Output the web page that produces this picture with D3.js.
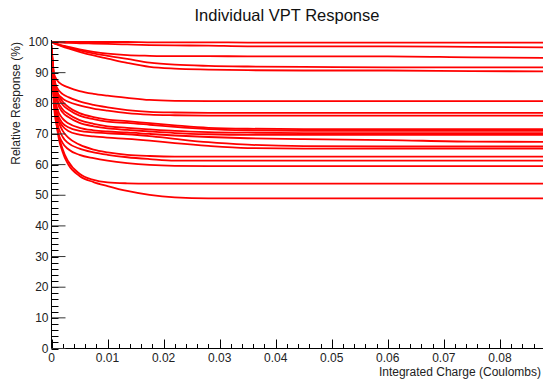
<!DOCTYPE html>
<html>
<head>
<meta charset="utf-8">
<script src="https://cdn.jsdelivr.net/npm/d3@7"></script>
<style>
  html, body { margin: 0; padding: 0; background: #fff; }
  svg { display: block; font-family: "Liberation Sans", Arial, sans-serif; }
</style>
</head>
<body>
<svg id="chart" width="543" height="380"></svg>
<script>
// ---- data ----
const title = "Individual VPT Response";
const xLabel = "Integrated Charge (Coulombs)";
const yLabel = "Relative Response (%)";

// integrated charge sample points shared by every VPT curve
const charge = [0, 0.0004, 0.001, 0.002, 0.003, 0.005, 0.0075, 0.01, 0.0135, 0.0175, 0.022, 0.028, 0.035, 0.045, 0.06, 0.075, 0.09];

// relative response (%) of each VPT at those charges
const vptA = [100, 100, 100, 100, 100, 100, 100, 100, 100, 99.9, 99.9, 99.9, 99.8, 99.8, 99.8, 99.8, 99.8];
const vptB = [100, 99.95, 99.9, 99.8, 99.7, 99.6, 99.5, 99.4, 99.2, 99.0, 98.9, 98.8, 98.6, 98.6, 98.6, 98.4, 98.2];
const vptC = [100, 99.7, 99.3, 98.8, 98.4, 97.6, 96.8, 96.2, 95.7, 95.5, 95.4, 95.4, 95.3, 95.3, 95.3, 95.0, 94.8];
const vptD = [100, 99.7, 99.3, 98.7, 98.2, 97.3, 96.3, 95.5, 94.5, 93.3, 92.6, 92.2, 92.0, 91.9, 91.7, 91.7, 91.7];
const vptE = [100, 99.6, 99.2, 98.5, 97.9, 96.8, 95.6, 94.6, 93.2, 91.9, 91.3, 91.0, 90.8, 90.7, 90.7, 90.5, 90.4];
const vptF = [98, 90, 87.5, 86.0, 85.2, 84.0, 83.1, 82.5, 81.8, 81.1, 80.8, 80.7, 80.7, 80.7, 80.7, 80.7, 80.7];
const vptG = [97, 88, 85, 83, 82, 80.6, 79.5, 78.7, 77.8, 77.2, 77.0, 76.9, 76.9, 76.9, 76.9, 76.9, 76.9];
const vptH = [96, 86, 83.5, 81.5, 80.5, 79.3, 78.3, 77.6, 76.8, 76.3, 76.1, 76.0, 76.0, 76.0, 76.0, 76.0, 76.0];
const vptI = [99, 90, 84, 80.5, 78.8, 76.8, 75.5, 74.7, 74.2, 73.5, 72.8, 72.0, 71.7, 71.6, 71.6, 71.6, 71.6];
const vptJ = [99, 89, 83, 79.5, 78, 76, 74.8, 74, 73.6, 73.0, 72.3, 71.6, 71.2, 71.0, 71.0, 71.0, 71.0];
const vptK = [98, 88, 81.5, 78, 76.5, 74.5, 73.3, 72.5, 72.0, 71.5, 71.0, 70.6, 70.4, 70.3, 70.3, 70.3, 70.3];
const vptL = [98, 87, 80.5, 77, 75.5, 73.6, 72.5, 71.8, 71.3, 70.8, 70.3, 69.9, 69.7, 69.7, 69.7, 69.7, 69.7];
const vptM = [97, 85, 78.5, 75, 73.5, 72.0, 71.2, 70.8, 70.5, 70.0, 69.5, 69.0, 68.6, 68.3, 68.0, 67.5, 67.4];
const vptN = [97, 84, 77, 73.5, 72.2, 71.0, 70.5, 70.2, 69.9, 69.3, 68.4, 67.3, 66.5, 66.0, 65.9, 65.9, 65.9];
const vptO = [96, 83, 76, 72.5, 71, 69.8, 69.2, 68.8, 68.4, 67.8, 67.0, 66.1, 65.4, 65.2, 65.2, 65.2, 65.2];
const vptP = [98, 84, 76, 71, 68.8, 66.5, 64.9, 64.0, 63.2, 62.8, 62.6, 62.6, 62.6, 62.6, 62.6, 62.6, 62.6];
const vptQ = [98, 82, 74, 69, 67.0, 65.2, 64.0, 63.2, 62.4, 61.8, 61.3, 61.3, 61.3, 61.3, 61.3, 61.3, 61.3];
const vptR = [97, 80, 72, 67, 65.0, 63.2, 62.1, 61.3, 60.5, 59.9, 59.6, 59.5, 59.5, 59.5, 59.5, 59.5, 59.5];
const vptS = [97, 85, 73, 65, 61, 57, 55, 54.2, 53.9, 53.8, 53.8, 53.8, 53.8, 53.8, 53.8, 53.8, 53.8];
const vptT = [97, 84, 72, 64, 60, 56.3, 54.3, 53.0, 51.4, 50.1, 49.3, 49.0, 49.0, 49.0, 49.0, 49.0, 49.0];

const curves = [vptA, vptB, vptC, vptD, vptE, vptF, vptG, vptH, vptI, vptJ,
                vptK, vptL, vptM, vptN, vptO, vptP, vptQ, vptR, vptS, vptT];

const xMajor = [0, 0.01, 0.02, 0.03, 0.04, 0.05, 0.06, 0.07, 0.08];
const xTickLabels = ["0", "0.01", "0.02", "0.03", "0.04", "0.05", "0.06", "0.07", "0.08"];
const yMajor = [0, 10, 20, 30, 40, 50, 60, 70, 80, 90, 100];

// ---- layout ----
const svg = d3.select("#chart");
const padL = 51.5, padB = 348.5, padT = 42, padR = 543;
const x = d3.scaleLinear().domain([0, 0.08]).range([padL, padL + 0.08 * 5605]);
const y = d3.scaleLinear().domain([0, 100]).range([padB, padT]);

// clip for curves
svg.append("defs").append("clipPath").attr("id", "plot")
  .append("rect").attr("x", padL).attr("y", 30).attr("width", padR - padL).attr("height", padB - 30 + 1);

const line = d3.line()
  .x((d, i) => x(charge[i]))
  .y(d => y(d))
  .curve(d3.curveMonotoneX);

svg.append("g").attr("clip-path", "url(#plot)")
  .selectAll("path").data(curves).join("path")
  .attr("d", d => line(d))
  .attr("fill", "none")
  .attr("stroke", "#ff0000")
  .attr("stroke-width", 1.8)
  .attr("stroke-linejoin", "round");

// ---- axes (ROOT style: ticks inside) ----
const axisColor = "#000";
const xMax = x.invert(padR);
const xMinor = d3.range(0, xMax + 1e-9, 0.002);
const yMinor = d3.range(0, 100.0001, 2);

const gx = svg.append("g");
gx.append("line").attr("x1", padL).attr("x2", padR).attr("y1", padB).attr("y2", padB)
  .attr("stroke", axisColor);
gx.selectAll(".minor").data(xMinor).join("line")
  .attr("x1", d => Math.round(x(d)) + 0.5).attr("x2", d => Math.round(x(d)) + 0.5)
  .attr("y1", padB).attr("y2", padB - 4.5).attr("stroke", axisColor);
gx.selectAll(".major").data(xMajor).join("line")
  .attr("x1", d => Math.round(x(d)) + 0.5).attr("x2", d => Math.round(x(d)) + 0.5)
  .attr("y1", padB).attr("y2", padB - 9).attr("stroke", axisColor);
gx.selectAll("text").data(xMajor).join("text")
  .attr("x", d => x(d)).attr("y", 362)
  .attr("text-anchor", "middle")
  .attr("font-size", 12).attr("fill", "#222")
  .text((d, i) => xTickLabels[i]);

const gy = svg.append("g");
gy.append("line").attr("x1", padL).attr("x2", padL).attr("y1", padB).attr("y2", 40)
  .attr("stroke", axisColor);
gy.selectAll(".minor").data(yMinor).join("line")
  .attr("x1", padL).attr("x2", padL + 7)
  .attr("y1", d => Math.round(y(d)) + 0.5).attr("y2", d => Math.round(y(d)) + 0.5)
  .attr("stroke", axisColor);
gy.selectAll(".major").data(yMajor).join("line")
  .attr("x1", padL).attr("x2", padL + 14)
  .attr("y1", d => y(d)).attr("y2", d => y(d))
  .attr("stroke", "#333");
gy.selectAll("text").data(yMajor).join("text")
  .attr("x", 48.5).attr("y", d => y(d) + 4)
  .attr("text-anchor", "end")
  .attr("font-size", 12).attr("fill", "#222")
  .text(d => d);

// ---- titles ----
svg.append("text").attr("x", 287).attr("y", 21)
  .attr("text-anchor", "middle").attr("font-size", 16.5).attr("fill", "#111")
  .text(title);
svg.append("text").attr("x", 541).attr("y", 376)
  .attr("text-anchor", "end").attr("font-size", 12).attr("fill", "#222")
  .text(xLabel);
svg.append("text")
  .attr("transform", "translate(20,42) rotate(-90)")
  .attr("text-anchor", "end").attr("font-size", 12).attr("fill", "#222")
  .text(yLabel);
</script>
</body>
</html>
